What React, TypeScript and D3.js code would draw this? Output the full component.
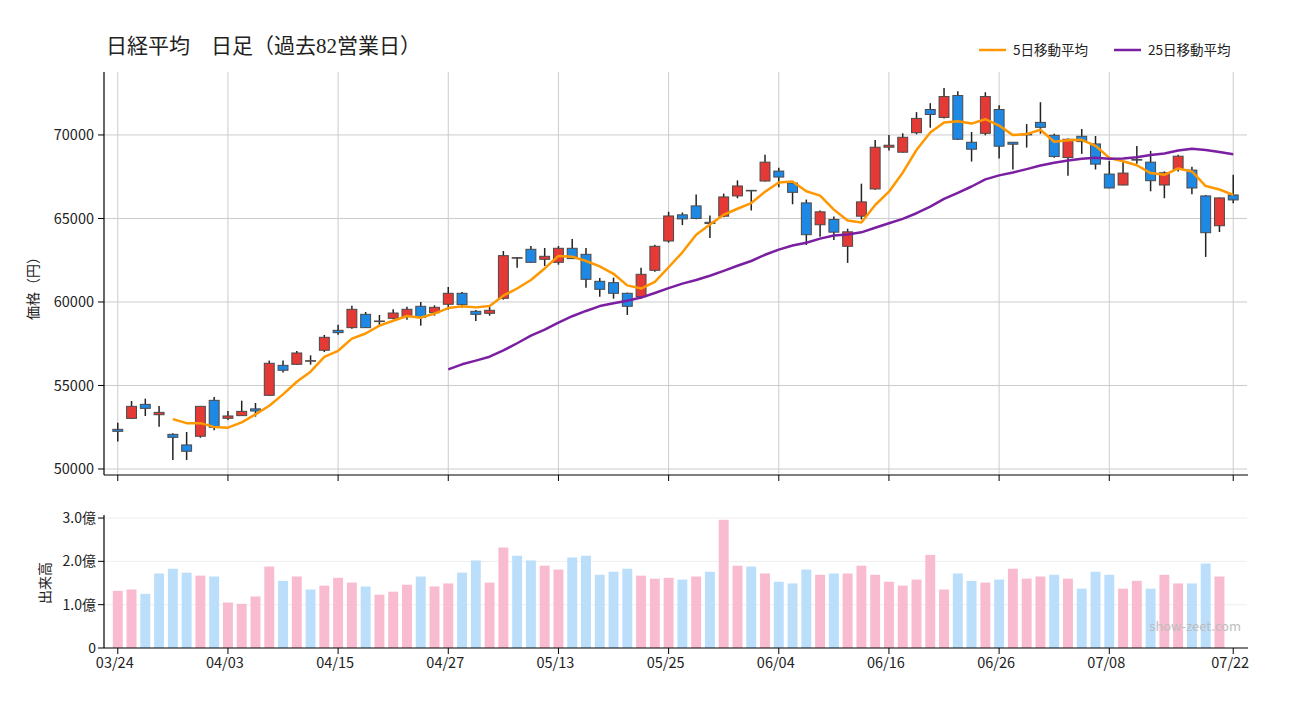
import React, { useEffect } from "react";
import * as d3 from "d3";

// ---- data ----
const opens = [
  52375, 53030, 53870, 53250, 52075, 51440, 51960, 54110, 53035, 53195,
  53600, 54410, 56205, 56267, 56487, 57108, 58303, 58463, 59260, 58862,
  59022, 59122, 59741, 59361, 59862, 60520, 59441, 59321, 60220, 62655,
  63154, 62555, 62375, 63214, 62854, 61237, 61157, 60519, 60319, 61896,
  63650, 65218, 65753, 64770, 65137, 66350, 66684, 67241, 67837, 67122,
  65932, 64623, 64940, 63334, 65137, 66767, 69266, 68967, 70135, 71525,
  71050, 72360, 69563, 70099, 71525, 69563, 70040, 70753, 69980, 68647,
  69921, 69463, 67658, 67003, 68530, 68372, 67003, 67935, 67896, 66350,
  64564, 66408,
];
const highs = [
  52770, 54070, 54210, 53770, 52135, 52215, 53770, 54310, 53475, 54090,
  53950, 56490, 56490, 57066, 56806, 58025, 58640, 59780, 59400, 59222,
  59563, 59720, 60000, 59800, 60898, 60600, 59521, 59700, 63054, 62700,
  63353, 63234, 63353, 63772, 63234, 61437, 61457, 60560, 62056, 63433,
  65400, 65357, 66428, 65179, 66488, 67281, 66700, 68808, 68035, 67140,
  66131, 65476, 65119, 64387, 67083, 69700, 70000, 70099, 71367, 71902,
  72812, 72616, 70177, 72557, 71783, 69580, 70652, 71962, 70075, 69782,
  70355, 69939, 68451, 68451, 69344, 69046, 67817, 68808, 68094, 66408,
  66250, 67618,
];
const lows = [
  51640, 52990, 53170, 52530, 50540, 50540, 51870, 52315, 52935, 53175,
  53135, 54370, 55770, 56247, 56247, 57006, 58042, 58400, 58440, 58622,
  58962, 58940, 58583, 59181, 59541, 59660, 58862, 59181, 60140, 62056,
  62355, 62156, 62235, 62580, 60858, 60319, 60200, 59222, 60200, 61816,
  63553, 64603, 64960, 63828, 65077, 66210, 65476, 67220, 66864, 65851,
  63413, 63909, 63711, 62341, 64940, 66725, 69064, 68947, 70040, 70433,
  70990, 69702, 68411, 69980, 68590, 67935, 69245, 70075, 68630, 67559,
  68868, 67935, 66810, 66990, 68272, 66626, 66210, 67817, 66448, 62697,
  64187, 65911,
];
const closes = [
  52255, 53750, 53630, 53390, 51895, 51060, 53750, 52500, 53175, 53450,
  53470, 56330, 55910, 56946, 56487, 57885, 58163, 59560, 58463, 58862,
  59340, 59563, 59082, 59681, 60519, 59840, 59261, 59501, 62774, 62655,
  62375, 62735, 63214, 62595, 61357, 60758, 60519, 59741, 61657, 63334,
  65150, 64975, 65000, 64700, 66289, 66946, 66684, 68372, 67480, 66565,
  64028, 65397, 64180, 64200, 65992, 69266, 69385, 69861, 70990, 71228,
  72300, 69742, 69146, 72300, 69326, 69445, 70040, 70456, 68707, 69742,
  69603, 68253, 66825, 67718, 68530, 67261, 67737, 68729, 66825, 64148,
  66230, 66111,
];
// volume in 億株 (the last day has no bar)
const volumes: (number | null)[] = [
  1.32, 1.35, 1.25, 1.72, 1.83, 1.74, 1.67, 1.65, 1.05, 1.02,
  1.19, 1.88, 1.55, 1.65, 1.35, 1.44, 1.62, 1.51, 1.42, 1.23,
  1.3, 1.46, 1.65, 1.42, 1.49, 1.74, 2.02, 1.51, 2.32, 2.13,
  2.02, 1.9, 1.81, 2.09, 2.13, 1.69, 1.76, 1.83, 1.67, 1.6,
  1.62, 1.58, 1.65, 1.76, 2.96, 1.9, 1.88, 1.72, 1.53, 1.49,
  1.81, 1.69, 1.72, 1.72, 1.9, 1.69, 1.53, 1.44, 1.58, 2.15,
  1.35, 1.72, 1.55, 1.51, 1.58, 1.83, 1.6, 1.65, 1.69, 1.6,
  1.37, 1.76, 1.69, 1.37, 1.55, 1.37, 1.69, 1.49, 1.49, 1.95,
  1.65, null,
];
const tickIndex = [0, 8, 16, 24, 32, 40, 48, 56, 64, 72, 81];
const tickLabels = ["03/24", "04/03", "04/15", "04/27", "05/13", "05/25", "06/04", "06/16", "06/26", "07/08", "07/22"];
const priceTicks = [50000, 55000, 60000, 65000, 70000];
const volumeTicks = [0, 1, 2, 3];
const volumeTickLabels = ["0", "1.0億", "2.0億", "3.0億"];
const maPeriods = [5, 25];
const maLabels = ["5日移動平均", "25日移動平均"];
const titleText = "日経平均　日足（過去82営業日）";

// ---- styles ----
const W = 1300;
const H = 720;
const LEFT = 104;
const RIGHT = 1247;
const P_TOP = 72;
const P_BOTTOM = 475;
const V_TOP = 515;
const V_BOTTOM = 648;
const UP = "#e53935";
const DOWN = "#1e88e5";
const V_UP = "#f8bbd0";
const V_DOWN = "#bbdefb";
const MA_COLORS = ["#ff9800", "#7b1fa2"];
const FONT = "'Noto Sans CJK JP', 'Noto Sans', sans-serif";

function sma(values: number[], n: number): (number | null)[] {
  return values.map((_, i) => {
    if (i < n - 1) return null;
    let s = 0;
    for (let k = i - n + 1; k <= i; k++) s += values[k];
    return s / n;
  });
}

export default function App() {
  useEffect(() => {
    document.body.style.margin = "0";
    document.body.style.background = "#fff";
  }, []);

  const n = closes.length;
  const x = d3.scaleLinear().domain([-1, n]).range([LEFT, RIGHT]);
  const y = d3.scaleLinear().domain([49640, 73770]).range([P_BOTTOM, P_TOP]);
  const yv = d3.scaleLinear().domain([0, 3.07]).range([V_BOTTOM, V_TOP]);
  const step = x(1) - x(0);
  const bw = step * 0.72;

  const mas = maPeriods.map((p) => sma(closes, p));
  const lineGen = d3
    .line<number | null>()
    .defined((d) => d !== null)
    .x((_, i) => x(i))
    .y((d) => y(d as number));

  return (
    <svg width={W} height={H} style={{ display: "block", background: "#fff" }} fontFamily={FONT}>
      {/* title */}
      <text x={106} y={53} fontSize={21} fontFamily="'Liberation Serif', 'DejaVu Serif', 'Noto Sans CJK JP', serif" fill="#222">
        {titleText}
      </text>

      {/* legend */}
      {maLabels.map((lab, k) => {
        const lx = k === 0 ? 979 : 1114;
        return (
          <g key={lab}>
            <line x1={lx} x2={lx + 27} y1={50} y2={50} stroke={MA_COLORS[k]} strokeWidth={2.5} />
            <text x={lx + 34} y={55} fontSize={13.5} fill="#222">
              {lab}
            </text>
          </g>
        );
      })}

      {/* price grid */}
      {priceTicks.map((t) => (
        <line key={"hg" + t} x1={LEFT} x2={RIGHT} y1={y(t)} y2={y(t)} stroke="#cccccc" strokeWidth={1} />
      ))}
      {tickIndex.map((t) => (
        <line key={"vg" + t} x1={x(t)} x2={x(t)} y1={P_TOP} y2={P_BOTTOM} stroke="#cccccc" strokeWidth={1} />
      ))}

      {/* candles */}
      {closes.map((c, i) => {
        const o = opens[i];
        const up = c >= o;
        const top = y(Math.max(o, c));
        const bot = y(Math.min(o, c));
        const cx = x(i);
        return (
          <g key={"c" + i}>
            <line x1={cx} x2={cx} y1={y(highs[i])} y2={y(lows[i])} stroke="#222" strokeWidth={1.5} />
            <rect
              x={cx - bw / 2}
              y={top}
              width={bw}
              height={Math.max(bot - top, 0.6)}
              fill={up ? UP : DOWN}
              stroke="#4a4a4a"
              strokeWidth={1}
            />
          </g>
        );
      })}

      {/* moving averages */}
      {mas.map((m, k) => (
        <path key={"ma" + k} d={lineGen(m) || ""} fill="none" stroke={MA_COLORS[k]} strokeWidth={2.5} strokeLinejoin="round" />
      ))}

      {/* price axes */}
      <line x1={LEFT} x2={LEFT} y1={P_TOP} y2={P_BOTTOM} stroke="#000" strokeWidth={1.2} />
      <line x1={LEFT} x2={RIGHT + 1} y1={P_BOTTOM} y2={P_BOTTOM} stroke="#000" strokeWidth={1.2} />
      {priceTicks.map((t) => (
        <g key={"pt" + t}>
          <line x1={LEFT - 6} x2={LEFT} y1={y(t)} y2={y(t)} stroke="#000" />
          <text x={LEFT - 10} y={y(t)} dy="0.35em" textAnchor="end" fontSize={14.5} fill="#222">
            {t}
          </text>
        </g>
      ))}
      {tickIndex.map((t) => (
        <line key={"pxt" + t} x1={x(t)} x2={x(t)} y1={P_BOTTOM} y2={P_BOTTOM + 6} stroke="#000" />
      ))}
      <text transform={`translate(38,285) rotate(-90)`} textAnchor="middle" fontSize={14} fill="#222">
        価格（円）
      </text>

      {/* volume grid */}
      {volumeTicks.slice(1).map((t) => (
        <line key={"vgl" + t} x1={LEFT} x2={RIGHT} y1={yv(t)} y2={yv(t)} stroke="#eeeeee" strokeWidth={1} />
      ))}

      {/* volume bars */}
      {volumes.map((v, i) => {
        if (v === null) return null;
        const upDay = i === 0 || closes[i] >= closes[i - 1];
        return (
          <rect
            key={"v" + i}
            x={x(i) - bw / 2}
            y={yv(v)}
            width={bw}
            height={yv(0) - yv(v)}
            fill={upDay ? V_UP : V_DOWN}
          />
        );
      })}

      {/* watermark */}
      <text x={1241} y={631} textAnchor="end" fontSize={13} fill="#bdbdbd">
        show-zeet.com
      </text>

      {/* volume axes */}
      <line x1={LEFT} x2={LEFT} y1={V_TOP} y2={V_BOTTOM} stroke="#000" strokeWidth={1.2} />
      <line x1={LEFT} x2={RIGHT + 1} y1={V_BOTTOM} y2={V_BOTTOM} stroke="#000" strokeWidth={1.2} />
      {volumeTicks.map((t, k) => (
        <g key={"vt" + t}>
          <line x1={LEFT - 6} x2={LEFT} y1={yv(t)} y2={yv(t)} stroke="#000" />
          <text x={LEFT - 8} y={yv(t)} dy="0.35em" textAnchor="end" fontSize={14} fill="#222">
            {volumeTickLabels[k]}
          </text>
        </g>
      ))}
      {tickIndex.map((t, k) => (
        <g key={"vxt" + t}>
          <line x1={x(t)} x2={x(t)} y1={V_BOTTOM} y2={V_BOTTOM + 6} stroke="#000" />
          <text x={x(t) - 3} y={V_BOTTOM + 20} textAnchor="middle" fontSize={14.5} fill="#222">
            {tickLabels[k]}
          </text>
        </g>
      ))}
      <text transform={`translate(50,583) rotate(-90)`} textAnchor="middle" fontSize={14} fill="#222">
        出来高
      </text>
    </svg>
  );
}
